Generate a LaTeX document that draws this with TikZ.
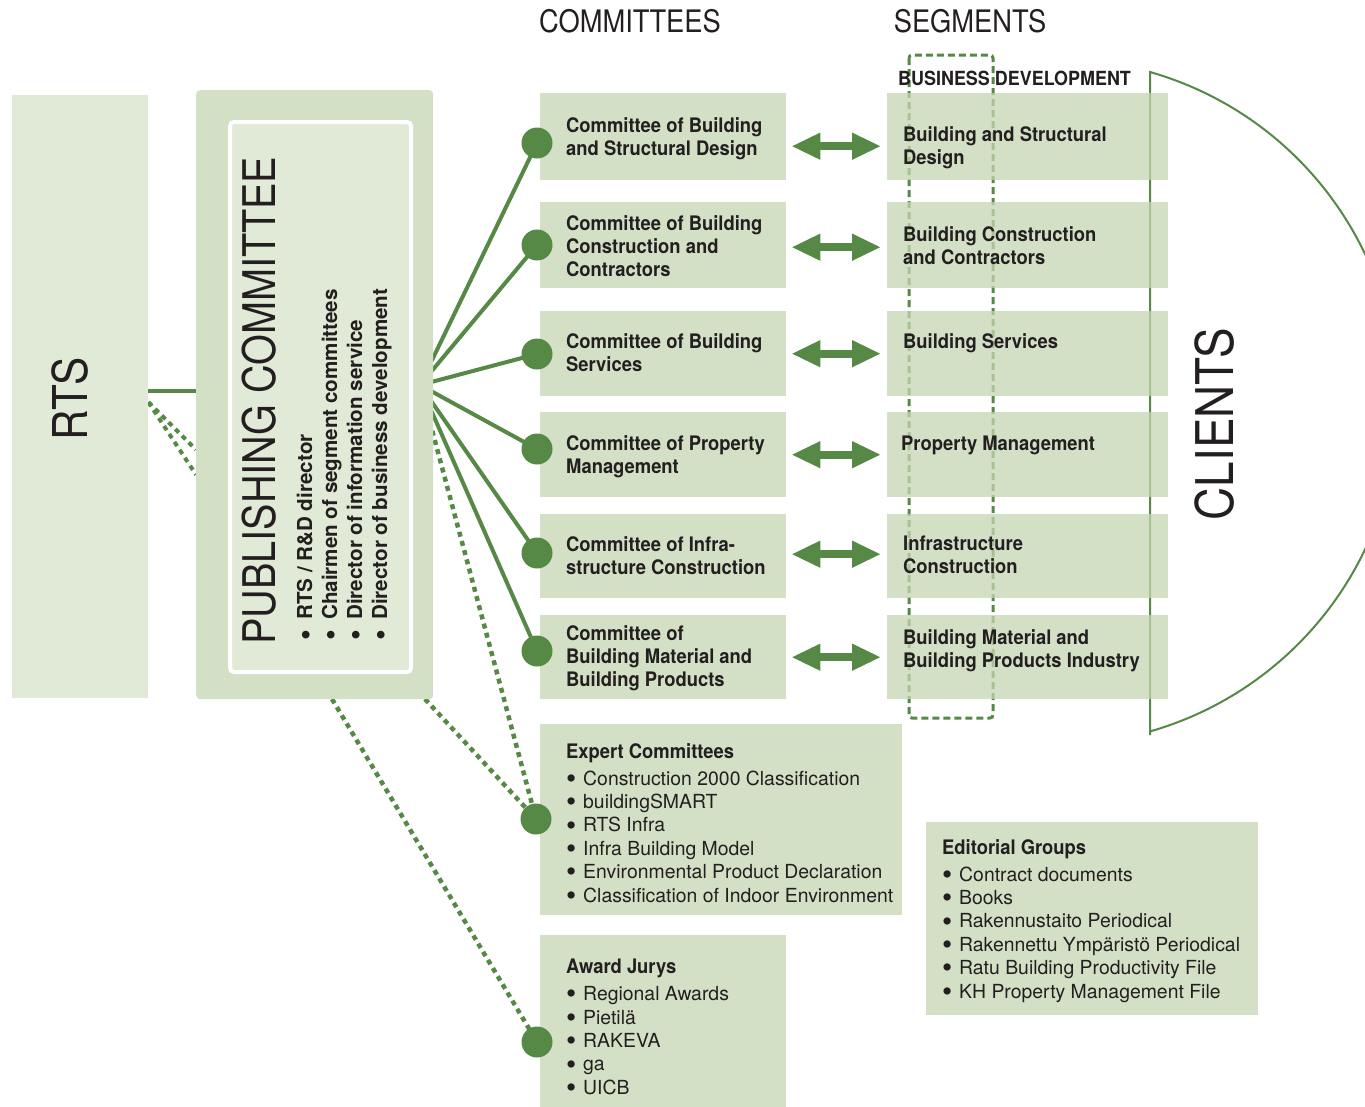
\documentclass[tikz,border=0pt]{standalone}
\usepackage{fontspec}
\setmainfont{TeX Gyre Heros}
\newfontfamily\condfont[FakeStretch=0.88]{TeX Gyre Heros}
\newfontfamily\boxfont[FakeStretch=0.92]{TeX Gyre Heros}
\usetikzlibrary{arrows.meta,backgrounds}
\definecolor{lightgreen}{RGB}{225,234,214}
\definecolor{midgreen}{RGB}{211,224,197}
\definecolor{segfill}{RGB}{196,214,178}
\definecolor{darkgreen}{RGB}{86,136,70}
\definecolor{inktext}{RGB}{35,31,32}
\newcommand{\bigdot}{\raisebox{-0.17em}[0pt][0pt]{\scalebox{1.5}{\textbullet}}}
\newcommand{\itm}{\makebox[17pt][l]{\bigdot}}

\begin{document}
\begin{tikzpicture}[x=1pt,y=-1pt,line cap=butt,
		plainbox/.style={inner sep=0,anchor=north west,draw=none},
		combox/.style={plainbox,fill=midgreen,minimum width=246},
		segbox/.style={plainbox,fill=segfill,fill opacity=0.75,minimum width=281},
		dot/.style={circle,fill=darkgreen,inner sep=0,minimum size=31},
		boldtext/.style={inner sep=0,anchor=west,align=left,text=inktext,font=\boxfont\bfseries\fontsize{20}{23}\selectfont},
		listtext/.style={inner sep=0,anchor=north west,align=left,text=inktext,font=\fontsize{19.4}{23.4}\selectfont},
		pubitem/.style={inner sep=0,anchor=base west,rotate=90,text=inktext,font=\bfseries\fontsize{20.6}{24}\selectfont},
		heading/.style={inner sep=0,text=inktext,font=\condfont\fontsize{31}{34}\selectfont},
		fanline/.style={darkgreen,line width=4},
		dotline/.style={darkgreen,line width=4.5,dash pattern=on 5pt off 4.5pt},
		twoway/.style={darkgreen,line width=8,{Triangle[length=29pt,width=25pt]}-{Triangle[length=29pt,width=25pt]},shorten <=5pt,shorten >=6pt}]
		\useasboundingbox (0,0) rectangle (1365,1106);
		\clip (0,0) rectangle (1365,1106);
		% headings
		\node[heading] (hcom) at (630,21) {COMMITTEES};
		\node[heading] (hseg) at (970,21) {SEGMENTS};
		% RTS and publishing committee
		\node[plainbox,fill=lightgreen,minimum width=136,minimum height=603] (rts) at (12,95) {};
		\node[inner sep=0,rotate=90,text=inktext,font=\condfont\fontsize{48}{50}\selectfont] (rtstext) at (70,399) {RTS};
		\node[plainbox,fill=midgreen,rounded corners=4,minimum width=237,minimum height=609] (pub) at (196,90) {};
		\node[plainbox,fill=lightgreen,draw=white,line width=4,rounded corners=4,minimum width=181,minimum height=550] (pubin) at (228,120) {};
		\node[inner sep=0,anchor=base west,rotate=90,text=inktext,font=\condfont\fontsize{45}{48}\selectfont] (pubtitle) at (275,645) {PUBLISHING COMMITTEE};
		\node[pubitem] (pub1) at (312,641) {\makebox[21pt][l]{\bigdot}RTS / R\&D director};
		\node[pubitem] (pub2) at (337,641) {\makebox[21pt][l]{\bigdot}Chairmen of segment committees};
		\node[pubitem] (pub3) at (362,641) {\makebox[21pt][l]{\bigdot}Director of information service};
		\node[pubitem] (pub4) at (387,641) {\makebox[21pt][l]{\bigdot}Director of business development};
		\coordinate (fan) at (420,385);
		\coordinate (pubS1) at (425,699);
		\coordinate (pubS2) at (332,699);
		% committees
		\node[combox,minimum height=87] (c1) at (540,93) {};
		\node[combox,minimum height=86] (c2) at (540,202) {};
		\node[combox,minimum height=85] (c3) at (540,311) {};
		\node[combox,minimum height=85] (c4) at (540,412) {};
		\node[combox,minimum height=84] (c5) at (540,514) {};
		\node[combox,minimum height=84] (c6) at (540,615) {};
		\node[boldtext] (ct1) at (566,139) {Committee of Building\\and Structural Design};
		\node[boldtext] (ct2) at (566,246.5) {Committee of Building\\Construction and\\Contractors};
		\node[boldtext] (ct3) at (566,353) {Committee of Building\\Services};
		\node[boldtext] (ct4) at (566,456.5) {Committee of Property\\Management};
		\node[boldtext] (ct5) at (566,556) {Committee of Infra-\\structure Construction};
		\node[boldtext] (ct6) at (566,658.5) {Committee of\\Building Material and\\Building Products};
		% segments
		\node[segbox,minimum height=87] (s1) at (887,93) {};
		\node[segbox,minimum height=86] (s2) at (887,202) {};
		\node[segbox,minimum height=85] (s3) at (887,311) {};
		\node[segbox,minimum height=85] (s4) at (887,412) {};
		\node[segbox,minimum height=84] (s5) at (887,514) {};
		\node[segbox,minimum height=84] (s6) at (887,615) {};
		\node[boldtext] (st1) at (903,148) {Building and Structural\\Design};
		\node[boldtext] (st2) at (903,245.5) {Building Construction\\and Contractors};
		\node[boldtext] (st3) at (903,343) {Building Services};
		\node[boldtext] (st4) at (901,445) {Property Management};
		\node[boldtext] (st5) at (903,555) {Infrastructure\\Construction};
		\node[boldtext] (st6) at (903,651) {Building Material and\\Building Products Industry};
		\node[boldtext,font=\boxfont\bfseries\fontsize{19.5}{22}\selectfont] (bizdev) at (898,78) {BUSINESS DEVELOPMENT};
		\node[inner sep=0,rotate=90,text=inktext,font=\condfont\fontsize{52}{56}\selectfont] (clients) at (1215,424) {CLIENTS};
		% expert committees, award jurys, editorial groups
		\node[combox,minimum width=362,minimum height=191] (expert) at (540,724) {};
		\node[listtext] (experttext) at (566,743) {{\boxfont\bfseries\fontsize{20}{23}\selectfont Expert Committees}\\[3.5pt]
			\itm Construction 2000 Classification\\
			\itm buildingSMART\\
			\itm RTS Infra\\
			\itm Infra Building Model\\
			\itm Environmental Product Declaration\\
			\itm Classification of Indoor Environment};
		\node[combox,minimum height=175] (award) at (540,935) {};
		\node[listtext] (awardtext) at (566,959) {{\boxfont\bfseries\fontsize{20}{23}\selectfont Award Jurys}\\[3.5pt]
			\itm Regional Awards\\
			\itm Pietilä\\
			\itm RAKEVA\\
			\itm ga\\
			\itm UICB};
		\node[combox,minimum width=332,minimum height=193] (editorial) at (926,822) {};
		\node[listtext] (editorialtext) at (942,839) {{\boxfont\bfseries\fontsize{20}{23}\selectfont Editorial Groups}\\[3.5pt]
			\itm Contract documents\\
			\itm Books\\
			\itm Rakennustaito Periodical\\
			\itm Rakennettu Ympäristö Periodical\\
			\itm Ratu Building Productivity File\\
			\itm KH Property Management File};
		% dots
		\node[dot] (d1) at (537,143) {};
		\node[dot] (d2) at (537,245) {};
		\node[dot] (d3) at (537,354) {};
		\node[dot] (d4) at (537,449) {};
		\node[dot] (d5) at (537,553) {};
		\node[dot] (d6) at (537,651) {};
		\node[dot] (d7) at (536,819) {};
		\node[dot] (d8) at (537,1042) {};
		% arrows committee <-> segment
		\draw[twoway] ([yshift=-9.5pt]c1.east) -- ([yshift=-9.5pt]s1.west);
		\draw[twoway] ([yshift=-2pt]c2.east) -- ([yshift=-2pt]s2.west);
		\draw[twoway] (c3.east) -- (s3.west);
		\draw[twoway] (c4.east) -- (s4.west);
		\draw[twoway] ([yshift=2pt]c5.east) -- ([yshift=2pt]s5.west);
		\draw[twoway] (c6.east) -- (s6.west);
		\begin{scope}[on background layer]
			\draw[fanline] (fan) -- (d1.center);
			\draw[fanline] (fan) -- (d2.center);
			\draw[fanline] (fan) -- (d3.center);
			\draw[fanline] (fan) -- (d4.center);
			\draw[fanline] (fan) -- (d5.center);
			\draw[fanline] (fan) -- (d6.center);
			\draw[dotline] (fan) -- (d7.center);
			\draw[dotline] (pubS1) -- (d7.center);
			\draw[dotline] (pubS2) -- (d8.center);
			\draw[fanline] ([yshift=6pt]rts.east) -- ([yshift=6pt]rts.east -| pub.west);
			\draw[dotline,line width=4] ([yshift=-5.5pt]rts.east) -- ([yshift=-55pt]pub.west);
			\draw[dotline,line width=4] ([yshift=-5.5pt]rts.east) -- ([yshift=-80pt]pub.west);
			\draw[darkgreen,line width=3,dash pattern=on 7pt off 4pt,rounded corners=3] (909,55) rectangle (993,718);
			\draw[darkgreen,line width=2] (1150,735) -- (1150,72) arc[start angle=-74,end angle=74,radius=343];
		\end{scope}
	\end{tikzpicture}
\end{document}
